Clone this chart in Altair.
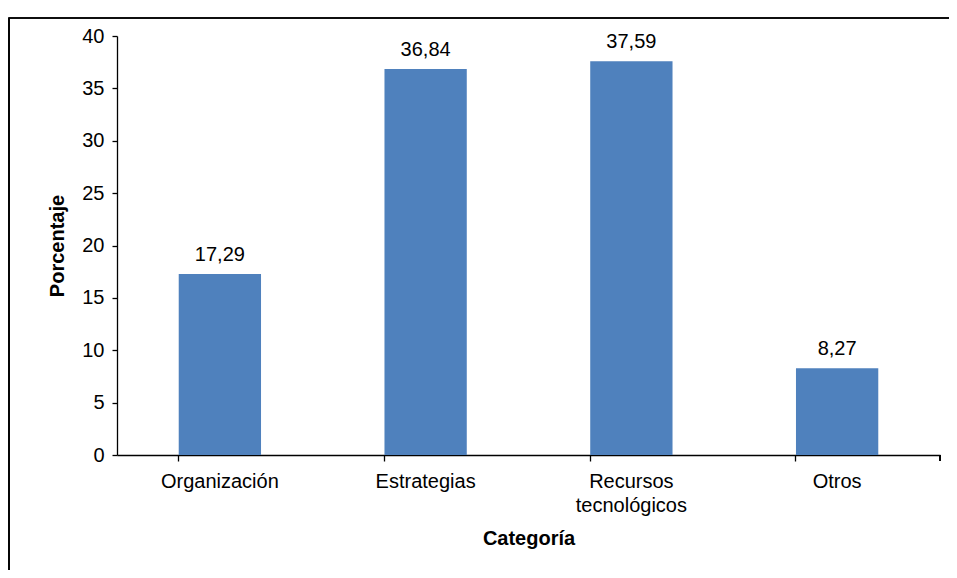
import altair as alt
import pandas as pd

categorias = ["Organización", "Estrategias", "Recursos tecnológicos", "Otros"]
porcentajes = [17.29, 36.84, 37.59, 8.27]

df = pd.DataFrame({"Categoría": categorias, "Porcentaje": porcentajes})

W, H = 823, 419
FONT = "Liberation Sans"
FS = 20

x_enc = alt.X(
    "Categoría:N",
    sort=categorias,
    scale=alt.Scale(paddingInner=0.6, paddingOuter=0.3),
    axis=alt.Axis(
        title="Categoría",
        labelAngle=0,
        bandPosition=0,
        labelExpr="datum.label == 'Recursos tecnológicos' ? ['Recursos', 'tecnológicos'] : datum.label",
        labelLineHeight=24,
        labelPadding=10,
        tickSize=6,
        titlePadding=13,
    ),
)
y_enc = alt.Y(
    "Porcentaje:Q",
    scale=alt.Scale(domain=[0, 40], nice=False),
    axis=alt.Axis(title="Porcentaje", values=list(range(0, 45, 5)), tickSize=5,
                  labelPadding=8, titlePadding=14, grid=False),
)

base = alt.Chart(df)
bars = base.mark_bar(color="#4F81BD").encode(x=x_enc, y=y_enc)
labels = base.transform_calculate(
    lab="replace(format(datum.Porcentaje, '.2f'), '.', ',')"
).mark_text(baseline="bottom", dy=-9, fontSize=FS, font=FONT, color="black").encode(
    x=alt.X("Categoría:N", sort=categorias), y="Porcentaje:Q", text="lab:N"
)
frame = base.mark_rect(filled=False, stroke="black", strokeWidth=1.2, clip=False).encode(
    x=alt.value(-108), x2=alt.value(W + 100), y=alt.value(-18), y2=alt.value(H + 200)
)
endtick = base.mark_rule(color="black", strokeWidth=1.3).encode(
    x=alt.value(W), y=alt.value(H), y2=alt.value(H + 6)
)

chart = alt.layer(frame, bars, labels, endtick).properties(
    width=W, height=H,
    autosize=alt.AutoSizeParams(type="none"),
    padding={"left": 109, "top": 28, "right": 9, "bottom": 115},
).configure(background="white").configure_view(stroke=None).configure_axis(
    labelFont=FONT, titleFont=FONT, labelFontSize=FS, titleFontSize=FS,
    labelColor="black", titleColor="black", titleFontWeight="bold",
    domainColor="black", tickColor="black", domainWidth=1.3, tickWidth=1.3,
)

chart.save("out.html", embed_options={"renderer": "svg", "actions": False})
